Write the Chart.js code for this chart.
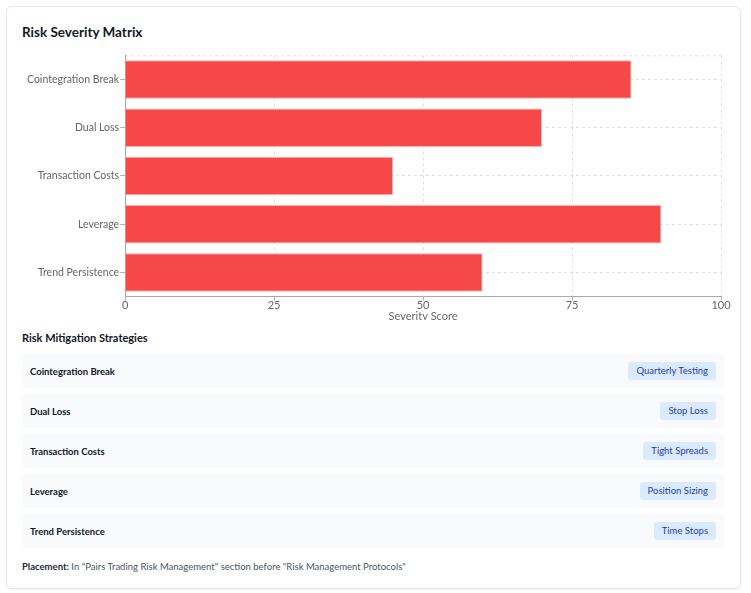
<!DOCTYPE html>
<html>
<head>
<meta charset="utf-8">
<script src="https://cdn.jsdelivr.net/npm/chart.js@4.4.0/dist/chart.umd.min.js"></script>
<style>
  body { margin: 0; padding: 6px; font-family: Lato, sans-serif; background: #fff; }
  .card { width: 702px; border: 1px solid #e5e7eb; border-radius: 6px; padding: 15px 16px 14px 15px; box-shadow: 0 1px 2px rgba(0,0,0,0.04); }
  h2 { margin: 0 0 6px; font-size: 13.5px; font-weight: 700; color: #111827; line-height: 20px; }
  .clip { height: 272px; clip-path: inset(0 -30px 0 0); }
  .chartBox { width: 712px; height: 279px; position: relative; }
  h3 { margin: 11px 0 9px; font-size: 11px; font-weight: 700; color: #111827; line-height: 14px; }
  .row { display: flex; justify-content: space-between; align-items: center; background: #f8fafc; border-radius: 4px; height: 34px; padding: 0 8px; margin-bottom: 6px; }
  .row .name { font-size: 9.5px; font-weight: 700; color: #111827; }
  .badge { background: #dbeafe; color: #1e40af; font-size: 9.5px; padding: 0 8px; height: 18px; line-height: 18px; border-radius: 3px; }
  .note { margin-top: 12px; font-size: 9.5px; line-height: 14px; color: #4b5563; }
  .note b { color: #1f2937; }
</style>
</head>
<body>
<div class="card">
  <h2>Risk Severity Matrix</h2>
  <div class="clip"><div class="chartBox"><canvas id="riskChart"></canvas></div></div>
  <h3>Risk Mitigation Strategies</h3>
  <div id="rows"></div>
  <div class="note"><b>Placement:</b> In "Pairs Trading Risk Management" section before "Risk Management Protocols"</div>
</div>
<script>
const risks = ["Cointegration Break", "Dual Loss", "Transaction Costs", "Leverage", "Trend Persistence"];
const severity = [85, 70, 45, 90, 60];
const mitigations = ["Quarterly Testing", "Stop Loss", "Tight Spreads", "Position Sizing", "Time Stops"];
const xTicks = [0, 25, 50, 75, 100];

const rowsEl = document.getElementById("rows");
risks.forEach((r, i) => {
  const row = document.createElement("div");
  row.className = "row";
  row.innerHTML = '<span class="name">' + r + '</span><span class="badge">' + mitigations[i] + '</span>';
  rowsEl.appendChild(row);
});

Chart.defaults.font.family = "Lato, sans-serif";
Chart.defaults.font.size = 11;
Chart.defaults.color = "#666";

// dashed line along the top of the plot area
const topLine = {
  id: "topLine",
  beforeDatasetsDraw(chart) {
    const { ctx, chartArea } = chart;
    ctx.save();
    ctx.strokeStyle = "rgba(0,0,0,0.12)";
    ctx.lineWidth = 1;
    ctx.setLineDash([3, 3]);
    ctx.beginPath();
    ctx.moveTo(chartArea.left, chartArea.top + 0.5);
    ctx.lineTo(chartArea.right, chartArea.top + 0.5);
    ctx.stroke();
    ctx.restore();
  },
};

const ctx = document.getElementById("riskChart").getContext("2d");
new Chart(ctx, {
  type: "bar",
  data: {
    labels: risks,
    datasets: [
      {
        label: "Severity",
        data: severity,
        backgroundColor: "#f74848",
        borderColor: "#fbb4b4",
        borderWidth: 1,
        barPercentage: 0.8,
        categoryPercentage: 1,
      },
    ],
  },
  options: {
    indexAxis: "y",
    responsive: true,
    maintainAspectRatio: false,
    animation: false,
    layout: { padding: { left: 4 } },
    plugins: { legend: { display: false }, tooltip: { enabled: false } },
    scales: {
      x: {
        min: 0,
        max: 100,
        afterBuildTicks: (axis) => { axis.ticks = xTicks.map((v) => ({ value: v })); },
        afterFit: (axis) => { axis.paddingRight = 13; },
        grid: { color: "rgba(0,0,0,0.12)", tickLength: 4, tickColor: "rgba(0,0,0,0.3)" },
        border: { color: "#aaa", dash: [3, 3] },
        ticks: { padding: -2 },
        title: { display: true, text: "Severity Score", padding: { top: 0, bottom: 4 } },
      },
      y: {
        grid: { color: "rgba(0,0,0,0.12)", offset: false, tickLength: 5, tickColor: "rgba(0,0,0,0.3)" },
        border: { color: "#aaa", dash: [3, 3] },
        ticks: { padding: 1, font: { size: 10.5 } },
      },
    },
  },
  plugins: [topLine],
});
</script>
</body>
</html>
